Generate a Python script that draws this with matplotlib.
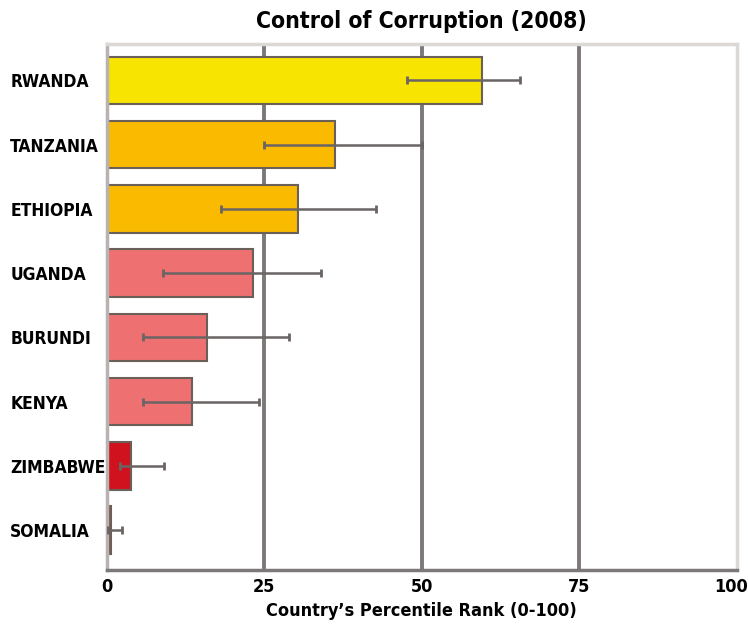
import matplotlib.pyplot as plt
from matplotlib.transforms import ScaledTranslation

countries = ['RWANDA', 'TANZANIA', 'ETHIOPIA', 'UGANDA', 'BURUNDI', 'KENYA', 'ZIMBABWE', 'SOMALIA']
rank = [59.5, 36.2, 30.3, 23.2, 15.9, 13.5, 3.8, 0.6]
low = [47.6, 24.9, 18.1, 8.9, 5.7, 5.7, 2.1, 0.2]
high = [65.6, 50.0, 42.7, 34.0, 28.9, 24.1, 9.0, 2.4]
colors = ['#F7E400', '#F9BA00', '#F9BA00', '#EE7070', '#EE7070', '#EE7070', '#D0121E', '#8B4A3A']

plt.rcParams['font.family'] = ['DejaVu Sans']
plt.rcParams['font.stretch'] = 'condensed'

fig = plt.figure(figsize=(7.48, 6.24), dpi=100)
ax = fig.add_axes([0.143, 0.0865, 0.842, 0.8425])

ypos = list(range(len(countries)))
xerr = [[r - l for r, l in zip(rank, low)], [h - r for r, h in zip(rank, high)]]

# vertical grid lines
for x in [25, 50, 75]:
    ax.axvline(x, color='#7d7878', lw=2.8, zorder=1)

ax.barh(ypos, rank, height=0.74, color=colors, edgecolor='#6b5f5a', lw=1.5, zorder=2)
ax.errorbar(rank, ypos, xerr=xerr, fmt='none', ecolor='#6a6464', elinewidth=1.8,
            capsize=3, capthick=2, zorder=3)

ax.set_xlim(0, 100)
ax.set_ylim(7.62, -0.56)
ax.set_xticks([0, 25, 50, 75, 100])
ax.set_yticks(ypos)
ax.set_yticklabels(countries, fontsize=12.5, fontweight='bold', fontstretch='condensed')
ax.tick_params(axis='x', length=0, pad=6)
ax.tick_params(axis='y', length=0, pad=12)
for lab in ax.get_xticklabels():
    lab.set_fontsize(13)
    lab.set_fontweight('bold')
    lab.set_fontstretch('condensed')
last = ax.get_xticklabels()[-1]
last.set_transform(last.get_transform() + ScaledTranslation(-4 / 72, 0, fig.dpi_scale_trans))
for lab in ax.get_yticklabels():
    lab.set_horizontalalignment('left')
    lab.set_x(-0.127)

ax.spines['top'].set_color('#dcd8d6')
ax.spines['right'].set_color('#dcd8d6')
ax.spines['left'].set_color('#b8b2b0')
ax.spines['bottom'].set_color('#7d7878')
for s in ax.spines.values():
    s.set_linewidth(2.5)

ax.set_xlabel("Country\u2019s Percentile Rank (0-100)", fontsize=13, fontweight='bold',
              fontstretch='condensed', labelpad=4)
ax.set_title('Control of Corruption (2008)', fontsize=16.5, fontweight='bold',
             fontstretch='condensed', pad=12)

fig.savefig('out.png', dpi=100)
